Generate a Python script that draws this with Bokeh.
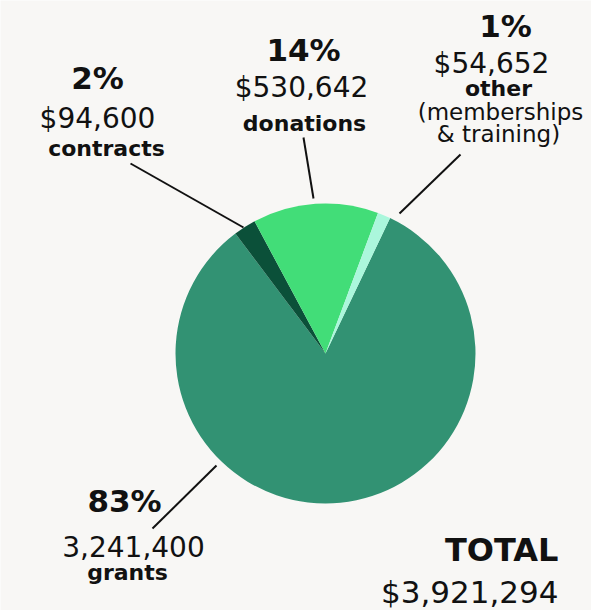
import math
from bokeh.plotting import figure
from bokeh.models import Range1d, ColumnDataSource
from bokeh.core.properties import value
from bokeh.embed import file_html
from bokeh.resources import INLINE

# ---- data ----
categories = ["grants", "contracts", "donations", "other"]
amounts = [3241400, 94600, 530642, 54652]
pct_labels = ["83%", "2%", "14%", "1%"]
amount_labels = ["3,241,400", "$94,600", "$530,642", "$54,652"]
name_labels = ["grants", "contracts", "donations", "other"]
other_note = ["(memberships", "& training)"]
total_title = "TOTAL"
total_label = "$3,921,294"

colors = ["#329273", "#0b5039", "#42dd78", "#abf7dc"]
BG = "#f8f7f5"
FONT = "DejaVu Sans"

W, H = 591, 610
p = figure(width=W, height=H, output_backend="svg", toolbar_location=None,
           x_range=Range1d(0, W), y_range=Range1d(0, H),
           min_border=0, background_fill_color=BG, border_fill_color=BG,
           outline_line_color=None)
p.axis.visible = False
p.grid.visible = False

def Y(ry):
    return H - ry

# pie
cx, cy, r = 325, Y(353), 150
start_cw = 25.5
total = sum(amounts)
starts, ends = [], []
acc = start_cw
for a in amounts:
    span = a / total * 360.0
    starts.append(math.radians(90 - acc))
    ends.append(math.radians(90 - acc - span))
    acc += span
src = ColumnDataSource(dict(x=[cx] * 4, y=[cy] * 4, s=starts, e=ends, c=colors))
p.wedge(x="x", y="y", radius=r, start_angle="s", end_angle="e", direction="clock",
        fill_color="c", line_color=None, source=src)

# leader lines
leaders = [((216, 465), (152, 528)),
           ((243, 227), (130, 163)),
           ((313, 198), (303, 137)),
           ((399, 213), (460, 154))]
for (x0, y0), (x1, y1) in leaders:
    p.line([x0, x1], [Y(y0), Y(y1)], line_color="#111111", line_width=2)

def txt(x, y, s, size, bold=False, align="center"):
    # y is the desired visual baseline in page pixels; compensate renderer offset
    p.text(x=[x], y=[Y(y - 0.41 * size)], text=[s], text_font=value(FONT),
           text_font_size=f"{size}px", text_font_style="bold" if bold else "normal",
           text_align=align, text_baseline="alphabetic", text_color="#111111")

# label layout: (pct pos, amount pos, name pos)
layout = [((124, 513), (133, 557), (127, 581)),
          ((97, 90), (97, 129), (106, 157)),
          ((303, 62), (301, 98), (304, 132)),
          ((505, 38), (491, 74), (498, 97))]
for i in range(4):
    (px, py), (ax, ay), (nx, ny) = layout[i]
    txt(px, py, pct_labels[i], 31, bold=True)
    txt(ax, ay, amount_labels[i], 28)
    txt(nx, ny, name_labels[i], 22, bold=True)

txt(500, 121, other_note[0], 23)
txt(498, 143, other_note[1], 23)

txt(558, 563, total_title, 32, bold=True, align="right")
txt(558, 604, total_label, 31, align="right")

open("out.html", "w").write(file_html(p, INLINE))
